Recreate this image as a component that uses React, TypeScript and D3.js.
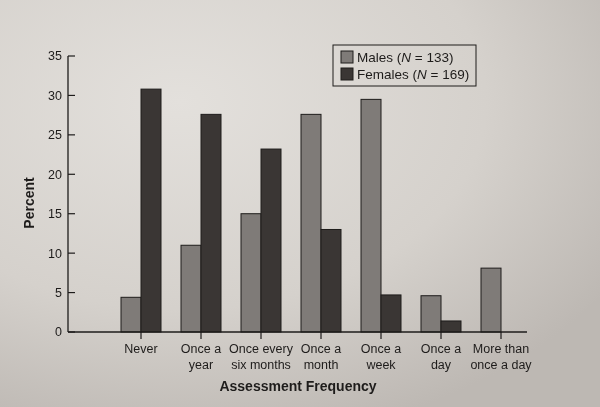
import React, { useEffect, useRef } from 'react';
import * as d3 from 'd3';

const categories = [
  'Never',
  'Once a|year',
  'Once every|six months',
  'Once a|month',
  'Once a|week',
  'Once a|day',
  'More than|once a day',
];
const males = [4.4, 11.0, 15.0, 27.6, 29.5, 4.6, 8.1];
const females = [30.8, 27.6, 23.2, 13.0, 4.7, 1.4, 0];
const yTicks = [0, 5, 10, 15, 20, 25, 30, 35];
const seriesNames = ['Males', 'Females'];
const seriesN = [133, 169];

const W = 600;
const H = 407;
const MALE_COLOR = '#7f7b78';
const FEMALE_COLOR = '#3a3634';
const INK = '#1e1c1b';

const App: React.FC = () => {
  const svgRef = useRef<SVGSVGElement>(null);

  useEffect(() => {
    if (!svgRef.current) return;
    const root = d3.select(svgRef.current);
    root.selectAll('*').remove();

    // paper background
    const defs = root.append('defs');
    const bg = defs
      .append('radialGradient')
      .attr('id', 'paper')
      .attr('cx', '30%')
      .attr('cy', '25%')
      .attr('r', '85%');
    bg.append('stop').attr('offset', '0%').attr('stop-color', '#e3e0dc');
    bg.append('stop').attr('offset', '60%').attr('stop-color', '#d5d1cc');
    bg.append('stop').attr('offset', '100%').attr('stop-color', '#bdb8b3');
    root.append('rect').attr('width', W).attr('height', H).attr('fill', 'url(#paper)');

    const font = 'Liberation Sans, Arial, sans-serif';

    // scales
    const x = d3.scaleBand<string>().domain(categories).range([111, 531]).padding(0);
    const y = d3.scaleLinear().domain([0, 35]).range([332, 56]);
    const barW = 20;

    const g = root.append('g').attr('font-family', font).attr('fill', INK);

    // bars
    const drawBars = (vals: number[], color: string, offset: number) => {
      g.append('g')
        .selectAll('rect')
        .data(vals)
        .enter()
        .append('rect')
        .attr('x', (d, i) => (x(categories[i]) as number) + x.bandwidth() / 2 + offset)
        .attr('y', d => y(d))
        .attr('width', barW)
        .attr('height', d => y(0) - y(d))
        .attr('fill', color)
        .attr('stroke', INK)
        .attr('stroke-width', 1);
    };
    drawBars(males, MALE_COLOR, -barW);
    drawBars(females, FEMALE_COLOR, 0);

    // y axis
    g.append('line')
      .attr('x1', 68).attr('x2', 68)
      .attr('y1', y(35)).attr('y2', y(0))
      .attr('stroke', INK).attr('stroke-width', 1.3);
    const yt = g.append('g').selectAll('g').data(yTicks).enter().append('g');
    yt.append('line')
      .attr('x1', 68).attr('x2', 75)
      .attr('y1', d => y(d)).attr('y2', d => y(d))
      .attr('stroke', INK).attr('stroke-width', 1.2);
    yt.append('text')
      .attr('x', 62)
      .attr('y', d => y(d))
      .attr('dy', '0.35em')
      .attr('text-anchor', 'end')
      .attr('font-size', 12.5)
      .text(d => d);

    // x axis
    g.append('line')
      .attr('x1', 68).attr('x2', 527)
      .attr('y1', y(0)).attr('y2', y(0))
      .attr('stroke', INK).attr('stroke-width', 1.3);
    const xt = g.append('g').selectAll('g').data(categories).enter().append('g')
      .attr('transform', d => `translate(${(x(d) as number) + x.bandwidth() / 2},0)`);
    xt.append('line')
      .attr('y1', y(0)).attr('y2', y(0) + 7)
      .attr('stroke', INK).attr('stroke-width', 1.2);
    xt.append('text')
      .attr('text-anchor', 'middle')
      .attr('font-size', 12.5)
      .selectAll('tspan')
      .data(d => d.split('|'))
      .enter()
      .append('tspan')
      .attr('x', 0)
      .attr('y', (d, i) => 353 + i * 16)
      .text(d => d);

    // axis titles
    g.append('text')
      .attr('x', 298).attr('y', 391)
      .attr('text-anchor', 'middle')
      .attr('font-size', 14)
      .attr('font-weight', 'bold')
      .text('Assessment Frequency');
    g.append('text')
      .attr('transform', 'translate(34,203) rotate(-90)')
      .attr('text-anchor', 'middle')
      .attr('font-size', 14)
      .attr('font-weight', 'bold')
      .text('Percent');

    // legend
    const lg = g.append('g');
    lg.append('rect')
      .attr('x', 333).attr('y', 45)
      .attr('width', 143).attr('height', 41)
      .attr('fill', 'none').attr('stroke', INK).attr('stroke-width', 1);
    const colors = [MALE_COLOR, FEMALE_COLOR];
    seriesNames.forEach((name, i) => {
      const cy = 57 + i * 17;
      lg.append('rect')
        .attr('x', 341).attr('y', cy - 6)
        .attr('width', 12).attr('height', 12)
        .attr('fill', colors[i]).attr('stroke', INK).attr('stroke-width', 1);
      const t = lg.append('text')
        .attr('x', 357).attr('y', cy)
        .attr('dy', '0.36em')
        .attr('font-size', 13.5);
      t.append('tspan').text(`${name} (`);
      t.append('tspan').attr('font-style', 'italic').text('N');
      t.append('tspan').text(` = ${seriesN[i]})`);
    });
  }, []);

  return (
    <div style={{ position: 'fixed', left: 0, top: 0, width: W, height: H }}>
      <svg ref={svgRef} width={W} height={H}></svg>
    </div>
  );
};

export default App;
